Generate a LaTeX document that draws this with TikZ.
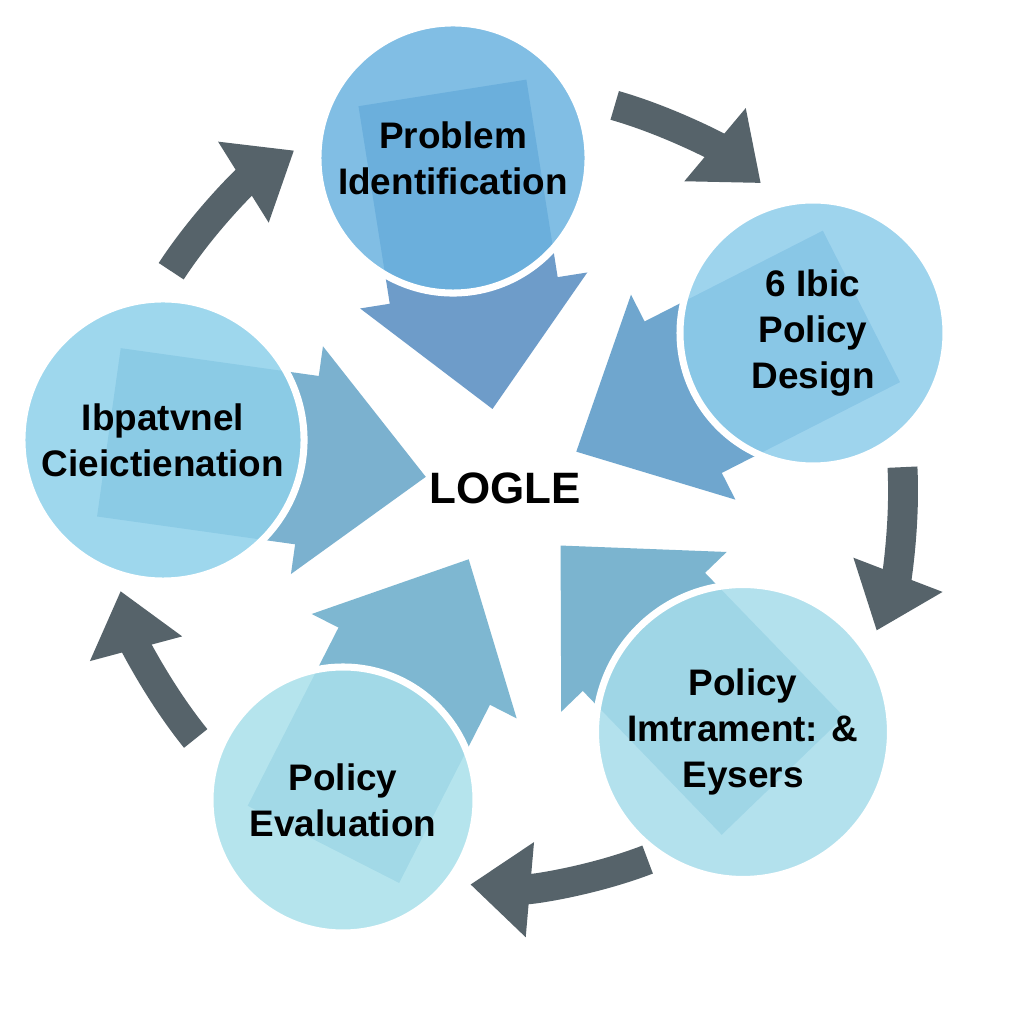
\documentclass[tikz,border=0pt]{standalone}
\usepackage{fontspec}
\setmainfont{Liberation Sans}
\usetikzlibrary{arrows.meta}
\definecolor{cycgray}{HTML}{56636A}
\definecolor{arrA}{HTML}{4A84BC}
\definecolor{arrB}{HTML}{4C90C2}
\definecolor{arrC}{HTML}{5AA2C4}
\definecolor{arrD}{HTML}{5EA6C6}
\definecolor{arrE}{HTML}{5A9EC4}
\definecolor{stA}{HTML}{6BB3E0}
\definecolor{stB}{HTML}{8ECDEB}
\definecolor{stC}{HTML}{A6DCEB}
\definecolor{stD}{HTML}{A9E0EB}
\definecolor{stE}{HTML}{8ED0EA}
\tikzset{
	stage/.style={circle, minimum size=266*0.01cm, draw=white, line width=2pt, fill=#1, fill opacity=0.85, text opacity=1, align=center, font=\fontsize{10.5}{13}\selectfont\bfseries},
	bigarr/.style={fill=#1, fill opacity=0.8},
	turn/.style={draw=cycgray, line width=8.5pt, -{Triangle[length=17pt, width=26pt]}}
}
\newcommand{\pointer}[2]{%
	\begin{scope}[shift={(505,536)}, rotate=#1]
		\fill[bigarr=#2] (80,0) -- (200,115) -- (200,85) -- (400,85) -- (400,-85) -- (200,-85) -- (200,-115) -- cycle;
	\end{scope}}

\begin{document}
\begin{tikzpicture}[x=0.01cm, y=0.01cm]
    \useasboundingbox[fill=white] (0,0) rectangle (1024,1024);

    % wide arrows into the centre
    \pointer{99}{arrA}
    \pointer{27}{arrB}
    \pointer{-46}{arrC}
    \pointer{243}{arrD}
    \pointer{172}{arrE}

    % stages
    \node[stage=stA] (ident) at (453,866) {Problem\\Identification};
    \node[stage=stB] (design) at (813,691) {6 Ibic\\Policy\\Design};
    \node[stage=stC] (impl) at (743,292) {Policy\\Imtrament: \&\\Eysers};
    \node[stage=stD] (eval) at (343,224) {Policy\\Evaluation};
    \node[stage=stE] (cons) at (163,584) {Ibpatvnel\\Cieictienation};

    \node[font=\fontsize{12.5}{15}\selectfont\bfseries] (core) at (505,536) {LOGLE};

    % cycle arrows
    \draw[turn] ([shift={(74:398)}]core.center) arc[start angle=74, end angle=50, radius=398];
    \draw[turn] ([shift={(3:398)}]core.center) arc[start angle=3, end angle=-21, radius=398];
    \draw[turn] ([shift={(-69:398)}]core.center) arc[start angle=-69, end angle=-95, radius=398];
    \draw[turn] ([shift={(219:398)}]core.center) arc[start angle=219, end angle=195, radius=398];
    \draw[turn] ([shift={(147:398)}]core.center) arc[start angle=147, end angle=122, radius=398];
\end{tikzpicture}
\end{document}
